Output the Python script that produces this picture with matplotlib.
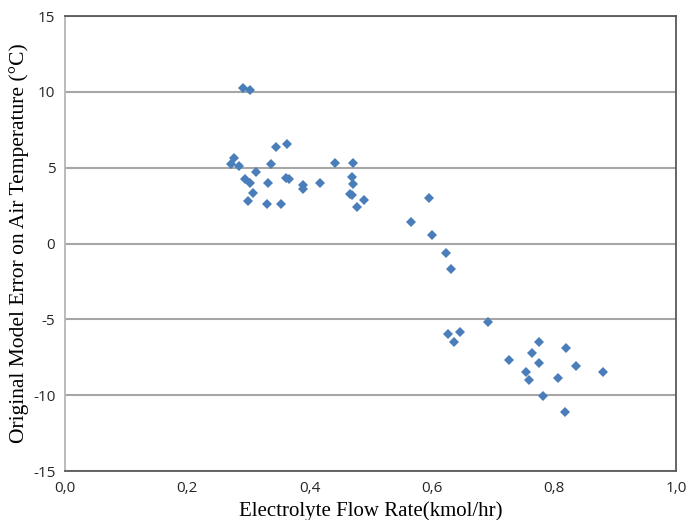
import matplotlib
matplotlib.use('Agg')
import matplotlib.pyplot as plt

# electrolyte flow rate (kmol/hr) vs. original model error (deg C)
flow = [0.291, 0.303, 0.271, 0.276, 0.285, 0.295, 0.303, 0.312, 0.308, 0.300,
	0.330, 0.332, 0.337, 0.346, 0.363, 0.354, 0.361, 0.366, 0.389, 0.389,
	0.418, 0.442, 0.472, 0.469, 0.471, 0.466, 0.470, 0.477, 0.489,
	0.596, 0.566, 0.601, 0.623, 0.631,
	0.693, 0.626, 0.647, 0.637, 0.776, 0.765, 0.726, 0.776,
	0.820, 0.837, 0.881, 0.807, 0.782, 0.818, 0.755, 0.759]
error = [10.26, 10.15, 5.24, 5.61, 5.09, 4.28, 4.01, 4.72, 3.36, 2.81,
	2.59, 3.96, 5.26, 6.36, 6.58, 2.59, 4.30, 4.28, 3.88, 3.60,
	3.99, 5.28, 5.33, 4.36, 3.95, 3.27, 3.18, 2.43, 2.87,
	3.0, 1.43, 0.53, -0.61, -1.69,
	-5.18, -5.94, -5.86, -6.47, -6.47, -7.24, -7.65, -7.89,
	-6.86, -8.07, -8.47, -8.88, -10.04, -11.10, -8.5, -9.0]

xticks = [0.0, 0.2, 0.4, 0.6, 0.8, 1.0]
xticklabels = ["0,0", "0,2", "0,4", "0,6", "0,8", "1,0"]
yticks = [-15, -10, -5, 0, 5, 10, 15]

fig = plt.figure(figsize=(6.97, 5.20), dpi=100)
ax = fig.add_axes([0.0933, 0.0942, 0.8767, 0.8750])

ax.set_axisbelow(True)
ax.grid(axis="y", color="#a6a6a6", linewidth=1.5)
ax.plot(flow, error, linestyle="none", marker="D", markersize=4.8,
	color="#4a7ebb", markeredgewidth=0)

ax.set_xlim(0, 1.0)
ax.set_ylim(-15, 15)
ax.set_xticks(xticks, xticklabels)
ax.set_yticks(yticks, [str(v) for v in yticks])
ax.tick_params(length=0, labelsize=11, pad=7)
for lbl in ax.get_xticklabels() + ax.get_yticklabels():
	lbl.set_family("Open Sans")
	lbl.set_color("#262626")

for side in ["top", "right", "bottom"]:
	ax.spines[side].set_color("#595959")
	ax.spines[side].set_linewidth(1.3)
ax.spines["left"].set_color("#b5b5b5")
ax.spines["left"].set_linewidth(1.3)

ax.set_xlabel("Electrolyte Flow Rate(kmol/hr)", family="Liberation Serif", fontsize=15, labelpad=4)
ax.set_ylabel("Original Model Error on Air Temperature (\u00b0C)", family="Liberation Serif", fontsize=15.5, labelpad=3)

fig.savefig("out.png", dpi=100)
